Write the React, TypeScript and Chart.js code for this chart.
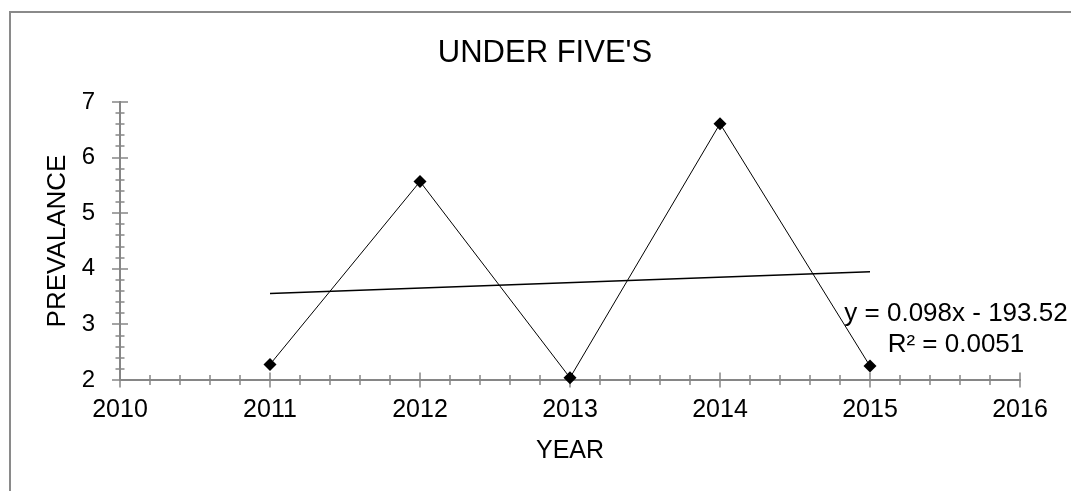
import { useEffect, useRef } from "react";
import { Chart, registerables } from "chart.js";

Chart.register(...registerables);

// Under-five prevalence by year
const YEARS = [2011, 2012, 2013, 2014, 2015];
const PREVALENCE = [2.28, 5.57, 2.04, 6.61, 2.25];

// Axis ticks
const X_TICKS = [2010, 2011, 2012, 2013, 2014, 2015, 2016];
const Y_TICKS = [2, 3, 4, 5, 6, 7];
const MINOR_STEP = 0.2;

const CHART_TITLE = "UNDER FIVE'S";
const X_TITLE = "YEAR";
const Y_TITLE = "PREVALANCE";

const FONT = "'Liberation Sans', Arial, Helvetica, sans-serif";
const AXIS_GREY = "#868686";
const FRAME_GREY = "#8a8a8a";

// Ordinary least squares fit for the linear trend line
function linearFit(xs: number[], ys: number[]) {
  const n = xs.length;
  const mx = xs.reduce((a, b) => a + b, 0) / n;
  const my = ys.reduce((a, b) => a + b, 0) / n;
  let sxy = 0;
  let sxx = 0;
  let syy = 0;
  for (let i = 0; i < n; i++) {
    sxy += (xs[i] - mx) * (ys[i] - my);
    sxx += (xs[i] - mx) ** 2;
    syy += (ys[i] - my) ** 2;
  }
  const slope = sxy / sxx;
  const intercept = my - slope * mx;
  const r2 = (sxy * sxy) / (sxx * syy);
  return { slope, intercept, r2 };
}

const fit = linearFit(YEARS, PREVALENCE);
const EQUATION = `y = ${fit.slope.toFixed(3)}x ${fit.intercept < 0 ? "-" : "+"} ${Math.abs(fit.intercept).toFixed(2)}`;
const R_SQUARED = `R² = ${fit.r2.toFixed(4)}`;

const TREND_X = [YEARS[0], YEARS[YEARS.length - 1]];

// White page with the grey outer frame of the chart object
const framePlugin = {
  id: "frame",
  beforeDraw(chart: Chart) {
    const { ctx } = chart;
    ctx.save();
    ctx.fillStyle = "#ffffff";
    ctx.fillRect(0, 0, chart.width, chart.height);
    ctx.strokeStyle = FRAME_GREY;
    ctx.lineWidth = 2;
    ctx.strokeRect(10, 12, chart.width + 100, chart.height + 100);
    ctx.restore();
  },
};

// Major and minor tick marks that cross the axis lines
const crossTicksPlugin = {
  id: "crossTicks",
  beforeDatasetsDraw(chart: Chart) {
    const { ctx, chartArea } = chart;
    const xs = chart.scales.x;
    const ys = chart.scales.y;
    ctx.save();
    ctx.strokeStyle = AXIS_GREY;
    ctx.lineWidth = 1.5;
    ctx.beginPath();
    const nx = Math.round((xs.max - xs.min) / MINOR_STEP);
    for (let i = 0; i <= nx; i++) {
      const v = xs.min + i * MINOR_STEP;
      const px = Math.round(xs.getPixelForValue(v));
      const half = i % 5 === 0 ? 7.5 : 5;
      ctx.moveTo(px, chartArea.bottom - half);
      ctx.lineTo(px, chartArea.bottom + half);
    }
    const ny = Math.round((ys.max - ys.min) / MINOR_STEP);
    for (let i = 0; i <= ny; i++) {
      const v = ys.min + i * MINOR_STEP;
      const py = Math.round(ys.getPixelForValue(v));
      const major = i % 5 === 0;
      ctx.moveTo(chartArea.left - (major ? 8 : 4.5), py);
      ctx.lineTo(chartArea.left + (major ? 8 : 4.5), py);
    }
    ctx.stroke();
    ctx.restore();
  },
};

// Chart title and trend-line equation
const textPlugin = {
  id: "chartText",
  afterDraw(chart: Chart) {
    const { ctx } = chart;
    ctx.save();
    ctx.fillStyle = "#000000";
    ctx.textAlign = "center";
    ctx.textBaseline = "alphabetic";
    ctx.font = `31px ${FONT}`;
    ctx.fillText(CHART_TITLE, 545, 62);
    ctx.font = `26px ${FONT}`;
    ctx.fillText(EQUATION, 956, 321);
    ctx.fillText(R_SQUARED, 956, 352);
    ctx.restore();
  },
};

export default function App() {
  const canvasRef = useRef<HTMLCanvasElement | null>(null);

  useEffect(() => {
    const canvas = canvasRef.current;
    if (!canvas) return;
    Chart.defaults.font.family = FONT;

    const chart = new Chart(canvas, {
      type: "scatter",
      data: {
        datasets: [
          {
            label: "Prevalence",
            data: YEARS.map((x, i) => ({ x, y: PREVALENCE[i] })),
            showLine: true,
            borderColor: "#000000",
            borderWidth: 1,
            backgroundColor: "#000000",
            pointStyle: "rectRot",
            pointRadius: 6.5,
            pointBorderWidth: 0,
            pointBackgroundColor: "#000000",
            clip: false,
            order: 1,
          },
          {
            label: "Linear trend",
            data: TREND_X.map((x) => ({ x, y: fit.slope * x + fit.intercept })),
            showLine: true,
            borderColor: "#000000",
            borderWidth: 1.5,
            pointRadius: 0,
            clip: false,
            order: 2,
          },
        ],
      },
      options: {
        responsive: false,
        animation: false,
        layout: { padding: { left: 10, right: 51, top: 102, bottom: 11 } },
        plugins: {
          legend: { display: false },
          tooltip: { enabled: false },
          title: { display: false },
        },
        scales: {
          x: {
            type: "linear",
            min: X_TICKS[0],
            max: X_TICKS[X_TICKS.length - 1],
            afterFit: (s: any) => {
              s.height = 100;
            },
            afterBuildTicks: (s: any) => {
              s.ticks = X_TICKS.map((value) => ({ value }));
            },
            grid: { display: false, drawTicks: false },
            border: { display: true, color: AXIS_GREY, width: 2 },
            ticks: {
              color: "#000000",
              font: { size: 25 },
              padding: 15,
              maxRotation: 0,
              autoSkip: false,
              callback: (v: any) => String(v),
            },
            title: {
              display: true,
              text: X_TITLE,
              color: "#000000",
              font: { size: 25 },
              padding: { top: 0, bottom: 14 },
            },
          },
          y: {
            type: "linear",
            min: Y_TICKS[0],
            max: Y_TICKS[Y_TICKS.length - 1],
            afterFit: (s: any) => {
              s.width = 110;
            },
            afterBuildTicks: (s: any) => {
              s.ticks = Y_TICKS.map((value) => ({ value }));
            },
            grid: { display: false, drawTicks: false },
            border: { display: true, color: AXIS_GREY, width: 2 },
            ticks: {
              color: "#000000",
              font: { size: 24 },
              padding: 25,
              autoSkip: false,
              callback: (v: any) => String(v),
            },
            title: {
              display: true,
              text: Y_TITLE,
              color: "#000000",
              font: { size: 26 },
              padding: { top: 32, bottom: 0 },
            },
          },
        },
      },
      plugins: [framePlugin, crossTicksPlugin, textPlugin],
    });

    return () => chart.destroy();
  }, []);

  return (
    <div style={{ position: "absolute", left: 0, top: 0, width: 1071, height: 491, background: "#ffffff" }}>
      <canvas ref={canvasRef} width={1071} height={491} style={{ display: "block" }} />
    </div>
  );
}
